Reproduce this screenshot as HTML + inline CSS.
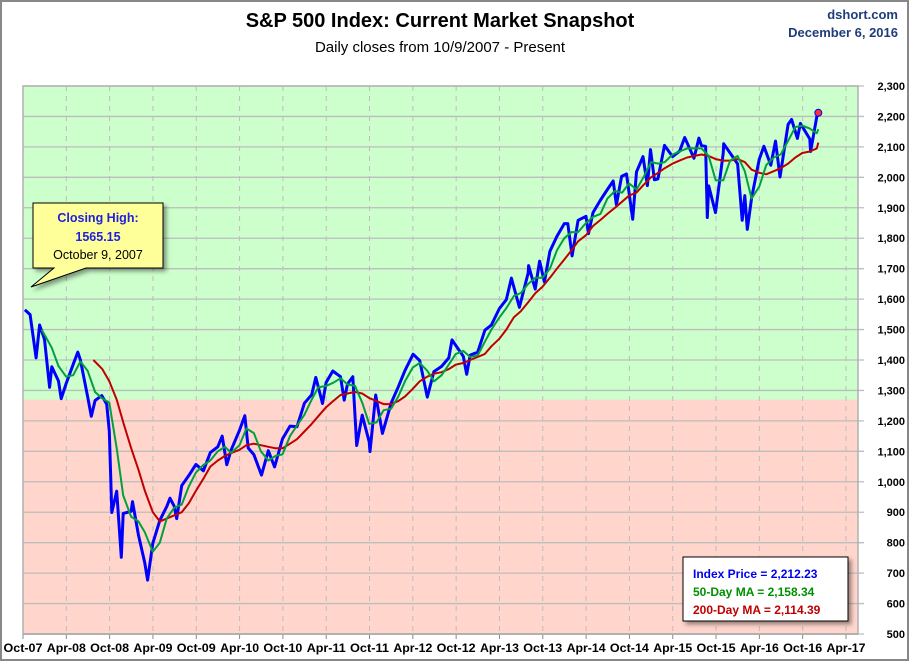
<!DOCTYPE html>
<html><head><meta charset="utf-8"><style>
html,body{margin:0;padding:0;background:#fff;}
#wrap{position:relative;width:910px;height:662px;overflow:hidden;font-family:"Liberation Sans",Arial,sans-serif;}
</style></head><body>
<div id="wrap">
<svg id="svg" width="910" height="662" xmlns="http://www.w3.org/2000/svg">
<defs><filter id="sh" x="-10%" y="-10%" width="130%" height="130%"><feDropShadow dx="3" dy="3" stdDeviation="2" flood-color="#000" flood-opacity="0.4"/></filter></defs>
<rect x="1" y="1" width="907" height="659" fill="#fff" stroke="#888" stroke-width="2"/>
<text x="440" y="27" text-anchor="middle" font-size="20" font-weight="bold" fill="#000">S&amp;P 500 Index: Current Market Snapshot</text>
<text x="440" y="52" text-anchor="middle" font-size="15" fill="#000">Daily closes from 10/9/2007 - Present</text>
<text x="898" y="19" text-anchor="end" font-size="13" font-weight="bold" fill="#1f3d7a">dshort.com</text>
<text x="898" y="37" text-anchor="end" font-size="13" font-weight="bold" fill="#1f3d7a">December 6, 2016</text>
<g id="plot"></g>
</svg>
</div>
<script>
const yTicks=[500,600,700,800,900,1000,1100,1200,1300,1400,1500,1600,1700,1800,1900,2000,2100,2200,2300];
const xTickLabels=["Oct-07","Apr-08","Oct-08","Apr-09","Oct-09","Apr-10","Oct-10","Apr-11","Oct-11","Apr-12","Oct-12","Apr-13","Oct-13","Apr-14","Oct-14","Apr-15","Oct-15","Apr-16","Oct-16","Apr-17"];
const zoneThreshold=1270;
const priceDates=["2007-10-09","2007-10-31","2007-11-26","2007-12-10","2007-12-31","2008-01-22","2008-01-31","2008-02-29","2008-03-10","2008-03-31","2008-04-30","2008-05-19","2008-05-30","2008-06-30","2008-07-15","2008-07-31","2008-08-29","2008-09-19","2008-09-30","2008-10-10","2008-10-31","2008-11-20","2008-11-28","2008-12-31","2009-01-06","2009-01-31","2009-02-27","2009-03-09","2009-03-31","2009-04-30","2009-05-29","2009-06-12","2009-06-30","2009-07-10","2009-07-31","2009-08-31","2009-09-30","2009-10-31","2009-11-30","2009-12-31","2010-01-19","2010-02-08","2010-02-26","2010-03-31","2010-04-23","2010-05-07","2010-05-31","2010-07-02","2010-07-31","2010-08-27","2010-09-30","2010-10-31","2010-11-30","2010-12-31","2011-01-31","2011-02-18","2011-03-16","2011-03-31","2011-04-29","2011-05-31","2011-06-16","2011-06-30","2011-07-22","2011-08-08","2011-08-31","2011-09-30","2011-10-03","2011-10-27","2011-11-25","2011-12-31","2012-01-31","2012-02-29","2012-04-02","2012-04-30","2012-06-01","2012-06-29","2012-07-31","2012-08-31","2012-09-14","2012-10-31","2012-11-15","2012-11-30","2012-12-31","2013-01-31","2013-02-28","2013-03-31","2013-04-30","2013-05-21","2013-06-24","2013-07-31","2013-08-02","2013-08-30","2013-09-18","2013-10-08","2013-10-31","2013-11-30","2013-12-31","2014-01-15","2014-02-03","2014-02-28","2014-03-31","2014-04-11","2014-04-30","2014-05-30","2014-06-30","2014-07-24","2014-08-07","2014-08-29","2014-09-19","2014-10-15","2014-10-31","2014-11-28","2014-12-16","2014-12-29","2015-01-15","2015-01-30","2015-02-27","2015-03-31","2015-04-30","2015-05-21","2015-06-30","2015-07-20","2015-07-31","2015-08-18","2015-08-25","2015-08-31","2015-09-29","2015-10-31","2015-11-03","2015-11-30","2015-12-31","2016-01-20","2016-01-31","2016-02-11","2016-02-29","2016-03-31","2016-04-20","2016-05-19","2016-06-08","2016-06-27","2016-07-31","2016-08-15","2016-09-09","2016-09-22","2016-10-31","2016-11-04","2016-11-30","2016-12-06"];
const priceValues=[1565,1549,1407,1515,1468,1310,1378,1331,1273,1323,1386,1426,1400,1280,1215,1267,1283,1255,1166,899,969,752,896,903,935,826,735,677,798,873,919,946,919,879,987,1021,1057,1036,1096,1115,1150,1056,1104,1169,1217,1111,1089,1022,1102,1049,1141,1183,1181,1258,1286,1343,1257,1326,1364,1345,1268,1321,1345,1119,1219,1131,1099,1285,1159,1258,1312,1366,1419,1398,1278,1362,1379,1407,1466,1412,1353,1416,1426,1498,1515,1569,1598,1669,1573,1686,1710,1633,1725,1656,1757,1806,1848,1848,1742,1859,1872,1815,1884,1924,1960,1988,1910,2003,2011,1862,2018,2068,1973,2091,1992,1995,2105,2068,2086,2131,2063,2129,2104,2102,1868,1972,1884,2079,2110,2080,2044,1859,1940,1829,1932,2060,2102,2040,2119,2001,2174,2190,2128,2177,2126,2085,2199,2212];
const ma50Dates=["2007-12-19","2008-01-31","2008-02-29","2008-03-31","2008-04-30","2008-05-30","2008-06-30","2008-07-31","2008-08-29","2008-09-30","2008-10-31","2008-11-28","2008-12-31","2009-01-31","2009-02-27","2009-03-31","2009-04-30","2009-05-29","2009-06-30","2009-07-31","2009-08-31","2009-09-30","2009-10-31","2009-11-30","2009-12-31","2010-01-31","2010-02-26","2010-03-31","2010-04-30","2010-05-31","2010-06-30","2010-07-31","2010-08-31","2010-09-30","2010-10-31","2010-11-30","2010-12-31","2011-01-31","2011-02-28","2011-03-31","2011-04-30","2011-05-31","2011-06-30","2011-07-31","2011-08-31","2011-09-30","2011-10-31","2011-11-30","2011-12-31","2012-01-31","2012-02-29","2012-03-31","2012-04-30","2012-05-31","2012-06-30","2012-07-31","2012-08-31","2012-09-30","2012-10-31","2012-11-30","2012-12-31","2013-01-31","2013-02-28","2013-03-31","2013-04-30","2013-05-31","2013-06-30","2013-07-31","2013-08-31","2013-09-30","2013-10-31","2013-11-30","2013-12-31","2014-01-31","2014-02-28","2014-03-31","2014-04-30","2014-05-31","2014-06-30","2014-07-31","2014-08-31","2014-09-30","2014-10-31","2014-11-30","2014-12-31","2015-01-31","2015-02-28","2015-03-31","2015-04-30","2015-05-31","2015-06-30","2015-07-31","2015-08-31","2015-09-30","2015-10-31","2015-11-30","2015-12-31","2016-01-31","2016-02-29","2016-03-31","2016-04-30","2016-05-31","2016-06-30","2016-07-31","2016-08-31","2016-09-30","2016-10-31","2016-11-30","2016-12-06"];
const ma50Values=[1500,1440,1380,1345,1350,1395,1365,1295,1275,1260,1110,955,885,870,835,770,800,880,915,925,985,1030,1055,1070,1100,1115,1095,1120,1175,1160,1100,1070,1085,1090,1150,1185,1220,1270,1310,1315,1325,1340,1320,1315,1260,1190,1195,1235,1240,1280,1330,1375,1390,1365,1330,1350,1385,1420,1430,1410,1415,1460,1500,1540,1570,1610,1620,1650,1670,1670,1700,1760,1800,1820,1820,1850,1870,1880,1930,1955,1950,1980,1960,2000,2050,2045,2050,2075,2085,2095,2095,2095,2070,1990,1990,2055,2070,2020,1930,1970,2040,2065,2075,2120,2165,2170,2160,2145,2158];
const ma200Dates=["2008-07-24","2008-08-31","2008-09-30","2008-10-31","2008-11-30","2008-12-31","2009-01-31","2009-02-28","2009-03-31","2009-04-30","2009-05-31","2009-06-30","2009-07-31","2009-08-31","2009-09-30","2009-10-31","2009-11-30","2009-12-31","2010-01-31","2010-02-28","2010-03-31","2010-04-30","2010-05-31","2010-06-30","2010-07-31","2010-08-31","2010-09-30","2010-10-31","2010-11-30","2010-12-31","2011-01-31","2011-02-28","2011-03-31","2011-04-30","2011-05-31","2011-06-30","2011-07-31","2011-08-31","2011-09-30","2011-10-31","2011-11-30","2011-12-31","2012-01-31","2012-02-29","2012-03-31","2012-04-30","2012-05-31","2012-06-30","2012-07-31","2012-08-31","2012-09-30","2012-10-31","2012-11-30","2012-12-31","2013-01-31","2013-02-28","2013-03-31","2013-04-30","2013-05-31","2013-06-30","2013-07-31","2013-08-31","2013-09-30","2013-10-31","2013-11-30","2013-12-31","2014-01-31","2014-02-28","2014-03-31","2014-04-30","2014-05-31","2014-06-30","2014-07-31","2014-08-31","2014-09-30","2014-10-31","2014-11-30","2014-12-31","2015-01-31","2015-02-28","2015-03-31","2015-04-30","2015-05-31","2015-06-30","2015-07-31","2015-08-31","2015-09-30","2015-10-31","2015-11-30","2015-12-31","2016-01-31","2016-02-29","2016-03-31","2016-04-30","2016-05-31","2016-06-30","2016-07-31","2016-08-31","2016-09-30","2016-10-31","2016-11-30","2016-12-06"];
const ma200Values=[1400,1370,1330,1270,1190,1110,1040,970,900,870,880,890,900,930,970,1010,1050,1070,1085,1095,1105,1120,1125,1120,1115,1110,1110,1125,1140,1165,1190,1215,1245,1265,1285,1290,1295,1290,1275,1265,1255,1255,1265,1280,1305,1330,1345,1355,1360,1370,1385,1390,1400,1410,1420,1445,1470,1500,1540,1560,1590,1620,1640,1670,1700,1730,1760,1790,1810,1840,1860,1880,1900,1920,1940,1950,1975,2000,2015,2030,2045,2055,2065,2070,2075,2070,2060,2055,2055,2060,2050,2025,2015,2010,2020,2030,2045,2065,2080,2085,2095,2114];

const NS="http://www.w3.org/2000/svg";
const L=23,R=858,T=86,B=634;
const yMin=500,yMax=2300;
function yS(v){return B-(v-yMin)/(yMax-yMin)*(B-T);}
function months(s){const p=s.split("-").map(Number);return (p[0]-2007)*12+(p[1]-10)+(p[2]-1)/30.5;}
const xPerMonth=(846-23)/114;
function xS(m){return L+m*xPerMonth;}
const g=document.getElementById("plot");
function mk(tag,attrs,parent){const e=document.createElementNS(NS,tag);for(const k in attrs)e.setAttribute(k,attrs[k]);(parent||g).appendChild(e);return e;}

let e=mk("rect",{x:L,y:T,width:R-L,height:yS(zoneThreshold)-T,fill:"#ccffcc"});


e=mk("rect",{x:L,y:yS(zoneThreshold),width:R-L,height:B-yS(zoneThreshold),fill:"#ffd5cc"});



yTicks.forEach(v=>{
  const y=yS(v);
  let l=mk("line",{x1:L,x2:R+6,y1:y,y2:y,stroke:"#bdbdbd","stroke-width":1.3});
  
  
  let t=mk("text",{x:905,y:y+4,"text-anchor":"end","font-size":11,"font-weight":"bold",fill:"#000"});
  t.textContent=v.toLocaleString("en-US");
  
  
});
xTickLabels.forEach((lab,i)=>{
  const x=xS(i*6);
  if(i>0){let l=mk("line",{x1:x,x2:x,y1:T,y2:B,stroke:"#bdbdbd","stroke-width":1,"stroke-dasharray":"5,5"});
  
  }
  let tk=mk("line",{x1:x,x2:x,y1:B,y2:B+5,stroke:"#888"});
  
  
  let t=mk("text",{x:x,y:652,"text-anchor":"middle","font-size":11.5,"font-weight":"bold",fill:"#000","textLength":39,"lengthAdjust":"spacingAndGlyphs"});
  t.textContent=lab;
  
  
});
e=mk("line",{x1:L,x2:R,y1:B,y2:B,stroke:"#888","stroke-width":1.5});


e=mk("rect",{x:L,y:T,width:R-L,height:B-T,fill:"none",stroke:"#b0b0b0","stroke-width":1.5});



function line(dates,vals,color,w,name){
  const d=dates.map((s,i)=>(i?"L":"M")+xS(months(s)).toFixed(1)+","+yS(vals[i]).toFixed(1)).join(" ");
  const p=mk("path",{d:d,fill:"none",stroke:color,"stroke-width":w,"stroke-linejoin":"round"});
  
  
}
line(priceDates,priceValues,"#0000ff",3,"index-price-line");
line(ma200Dates,ma200Values,"#c00000",2,"ma200-line");
line(ma50Dates,ma50Values,"#00a040",2,"ma50-line");
const last=priceDates.length-1;
e=mk("circle",{cx:xS(months(priceDates[last])),cy:yS(priceValues[last]),r:3.5,fill:"#ff3030",stroke:"#0000ff","stroke-width":1});



// callout
const cg=mk("g",{filter:"url(#sh)"});


mk("path",{d:"M33,203 H163 V268 H86 L31,287 L54,268 H33 Z",fill:"#ffff99",stroke:"#000","stroke-width":1},cg);
[["Closing High:",222,"#2020e0","bold"],["1565.15",241,"#2020e0","bold"],["October 9, 2007",259,"#000","normal"]].forEach(a=>{
  const t=mk("text",{x:98,y:a[1],"text-anchor":"middle","font-size":12.5,"font-weight":a[3],fill:a[2]});
  t.textContent=a[0];
  
  
});
// legend
const lg=mk("g",{});


mk("rect",{x:683,y:557,width:165,height:64,fill:"#fff",stroke:"#000","stroke-width":1,filter:"url(#sh)"},lg);
[["Index Price =  2,212.23",578,"#0000ee"],["50-Day MA =  2,158.34",596,"#009000"],["200-Day MA = 2,114.39",614,"#c00000"]].forEach(a=>{
  const t=mk("text",{x:693,y:a[1],"font-size":12,"font-weight":"bold",fill:a[2]},lg);
  t.textContent=a[0];
  
  
});
</script>
</body></html>
